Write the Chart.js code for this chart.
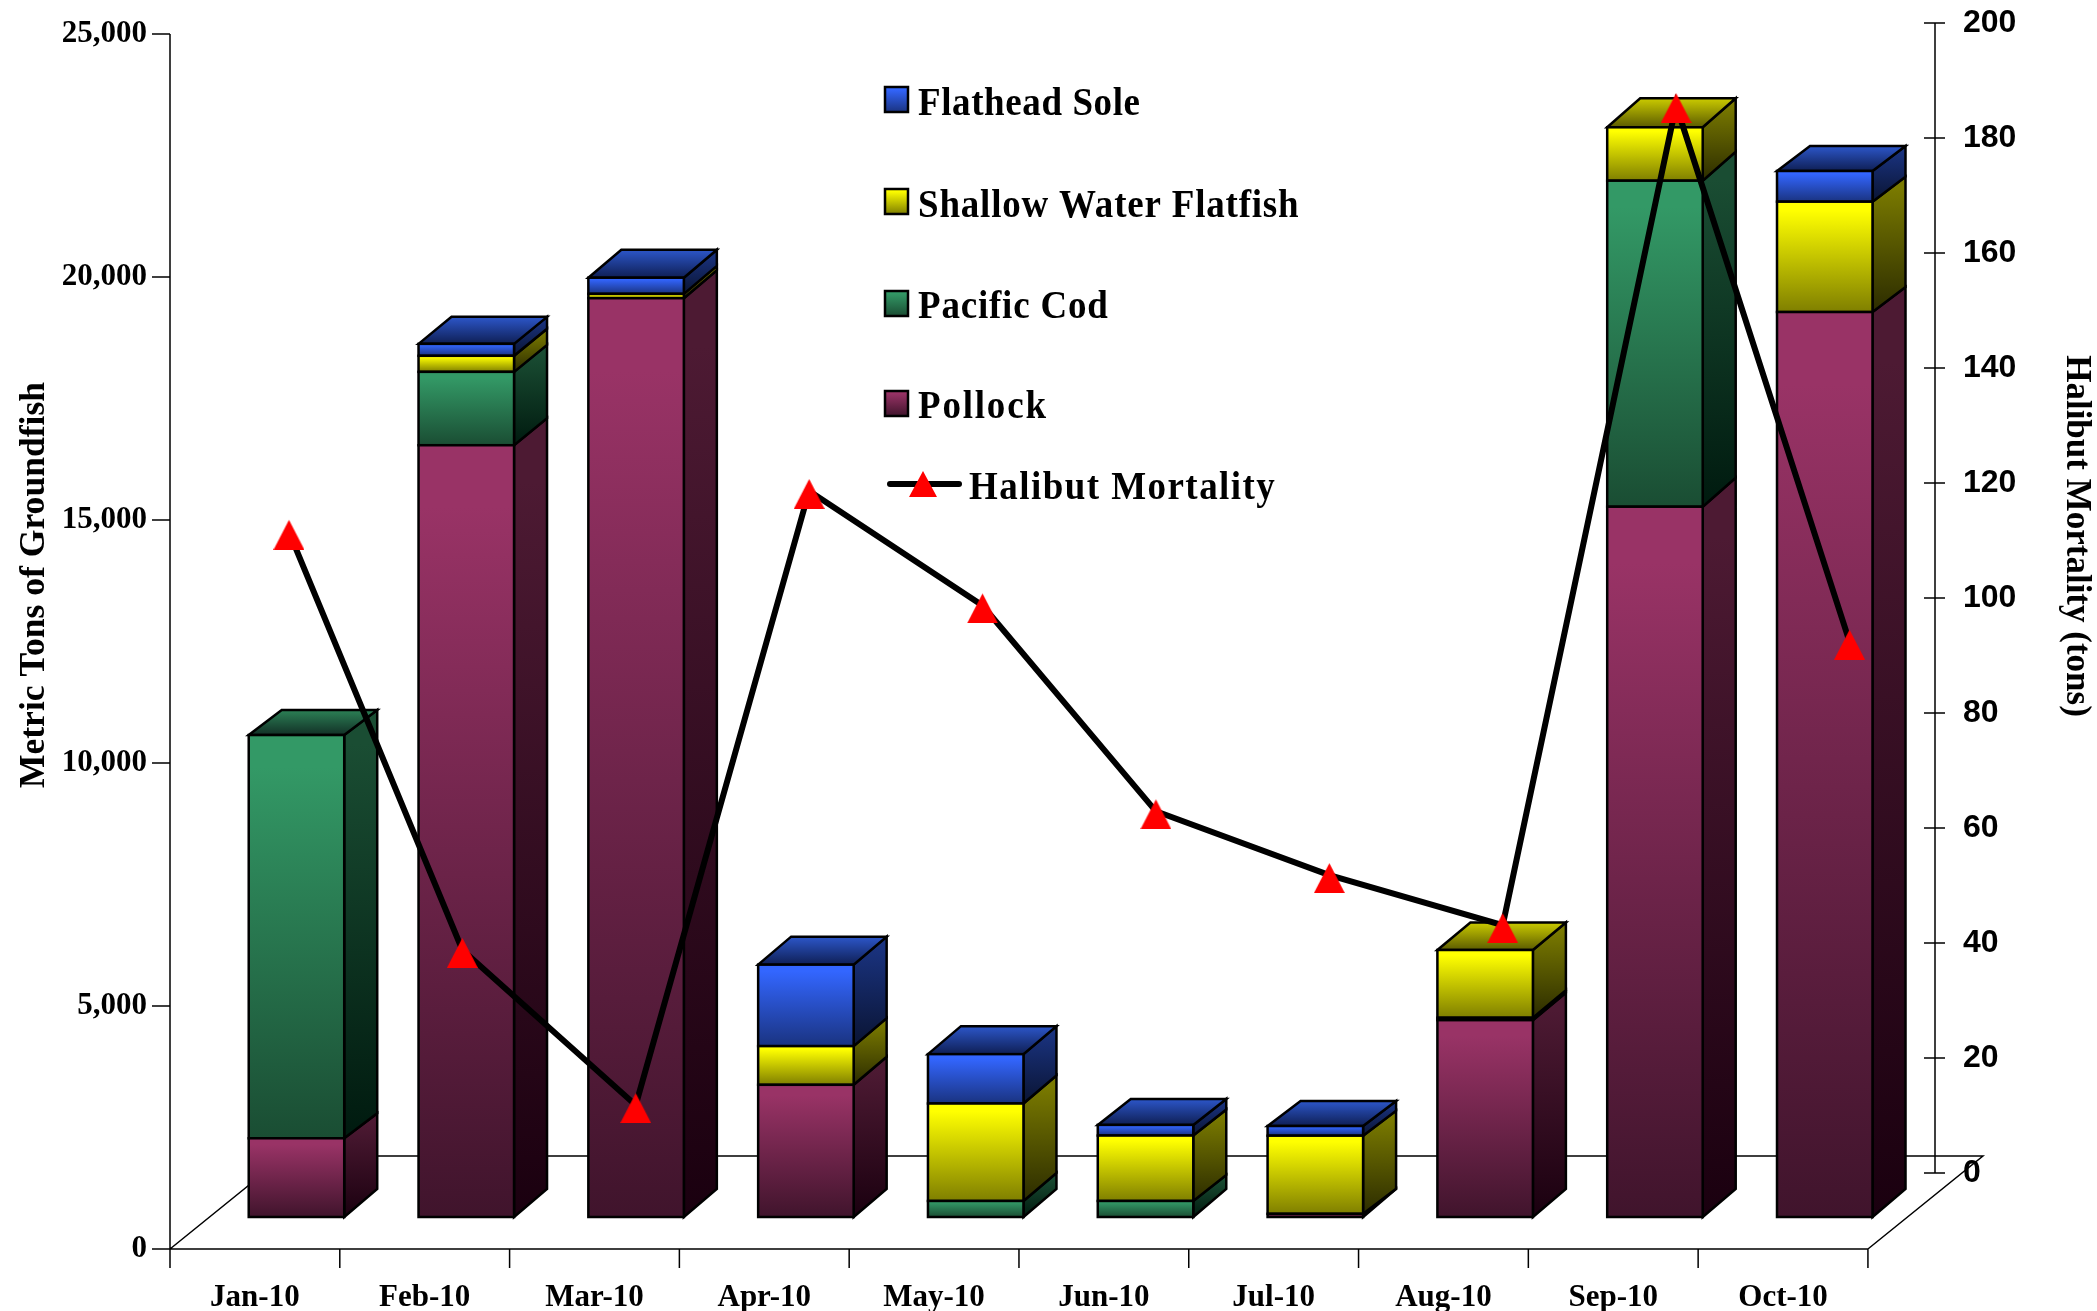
<!DOCTYPE html>
<html>
<head>
<meta charset="utf-8">
<title>Groundfish and Halibut Mortality</title>
<script src="https://cdn.jsdelivr.net/npm/chart.js@4"></script>
<style>
  html, body { margin: 0; padding: 0; background: #fff; }
  canvas { display: block; }
</style>
</head>
<body>
<canvas id="myChart" width="2097" height="1311"></canvas>
<script>
const months = ['Jan-10', 'Feb-10', 'Mar-10', 'Apr-10', 'May-10', 'Jun-10', 'Jul-10', 'Aug-10', 'Sep-10', 'Oct-10'];
const pollock = [1620, 15880, 18905, 2720, null, null, 66, 4050, 14615, 18621];
const pacificCod = [8297, 1510, null, null, 330, 330, null, 50, 6708, null];
const shallowFlatfish = [null, 330, 90, 796, 2005, 1346, 1607, 1394, 1099, 2270];
const flatheadSole = [null, 246, 332, 1676, 1016, 219, 199, null, null, 632];
const halibut = [111.5, 38.8, 11.8, 118.6, 98.7, 62.9, 51.8, 43.1, 185.7, 92.4];
const leftTicks = [0, 5000, 10000, 15000, 20000, 25000];
const rightTicks = [0, 20, 40, 60, 80, 100, 120, 140, 160, 180, 200];

const serif = '"Liberation Serif", "Times New Roman", serif';
const sans = '"Liberation Sans", Arial, sans-serif';

// front, side and top colours of each series: [top of gradient, bottom of gradient]
const looks = {
  pollock: { front: ['#993366', '#40142c'], side: ['#4d1a33', '#1a000f'], top: ['#7a2952', '#3a1226'], label: 'Pollock' },
  cod: { front: ['#339966', '#1a4d33'], side: ['#1a4d33', '#001a0f'], top: ['#2a7a52', '#123026'], label: 'Pacific Cod' },
  shallow: { front: ['#ffff00', '#7f7f00'], side: ['#7a7a00', '#2c2c00'], top: ['#c2c200', '#5c5c00'], label: 'Shallow Water Flatfish' },
  flathead: { front: ['#3366ff', '#1a3380'], side: ['#1a3380', '#0a1433'], top: ['#2a52c0', '#0f1f55'], label: 'Flathead Sole' }
};

const stackOrder = [
  { values: pollock, look: looks.pollock },
  { values: pacificCod, look: looks.cod },
  { values: shallowFlatfish, look: looks.shallow },
  { values: flatheadSole, look: looks.flathead }
];

const BAR_W = 95.5;
const BAR_DX = 33, BAR_DY = 28;       // depth of one bar at the floor
const TOP_DY = [25, 27, 28, 28, 28, 26, 25, 27.5, 29, 25];  // depth higher up, it varies a little per bar
const FLOOR_DX = 115, FLOOR_DY = 93;  // depth of the floor
const EDGE = 2.5;

function vGradient(ctx, y0, y1, cols) {
  const g = ctx.createLinearGradient(0, y0, 0, y1);
  g.addColorStop(0, cols[0]);
  g.addColorStop(0.08, cols[0]);
  g.addColorStop(1, cols[1]);
  return g;
}

function frontFill(look, seriesIdx) {
  return c => {
    if (c.type !== 'data' || !c.chart.chartArea) return look.front[0];
    const s = c.chart.scales.yBar;
    let below = 0;
    for (let k = 0; k < seriesIdx; k++) below += stackOrder[k].values[c.dataIndex] || 0;
    const v = stackOrder[seriesIdx].values[c.dataIndex] || 0;
    return vGradient(c.chart.ctx, s.getPixelForValue(below + v), s.getPixelForValue(below), look.front);
  };
}

function poly(ctx, pts, fill) {
  ctx.beginPath();
  pts.forEach((p, i) => i ? ctx.lineTo(p[0], p[1]) : ctx.moveTo(p[0], p[1]));
  ctx.closePath();
  ctx.fillStyle = fill;
  ctx.fill();
  ctx.stroke();
}

// the scale boxes keep fixed sizes so the plot area lands where the picture has it
function fixBox(size) {
  return s => {
    if (s.isHorizontal()) s.height = size; else s.width = size;
    s.paddingLeft = s.paddingRight = s.paddingTop = s.paddingBottom = 0;
  };
}

// marker: the line joins a little above the middle of the triangle
function triangleMarker() {
  const c = document.createElement('canvas');
  c.width = 31;
  c.height = 36;
  const t = c.getContext('2d');
  t.fillStyle = '#ff0000';
  t.beginPath();
  t.moveTo(15.5, 6);
  t.lineTo(31, 36);
  t.lineTo(0, 36);
  t.closePath();
  t.fill();
  return c;
}

function stretchedText(ctx, text, x, y) {
  ctx.save();
  ctx.translate(x, y);
  ctx.scale(1, 1.09);
  ctx.fillText(text, 0, 0);
  ctx.restore();
}

const axesPlugin = {
  id: 'axes3d',
  // floor, axis lines, tick marks and the side and top faces, behind the bars
  beforeDatasetsDraw(chart) {
    const ctx = chart.ctx, sc = chart.scales;
    const x0 = sc.x.getPixelForValue(0), x1 = sc.x.getPixelForValue(months.length);
    const y0 = sc.y.getPixelForValue(0), yTop = sc.y.getPixelForValue(25000);
    ctx.save();
    ctx.strokeStyle = '#000';
    ctx.lineWidth = 1.5;
    ctx.beginPath();
    ctx.moveTo(x0, yTop); ctx.lineTo(x0, y0); ctx.lineTo(x1, y0);
    ctx.moveTo(x0, y0); ctx.lineTo(x0 + FLOOR_DX, y0 - FLOOR_DY); ctx.lineTo(x1 + FLOOR_DX, y0 - FLOOR_DY);
    ctx.lineTo(x1, y0);
    leftTicks.forEach(v => {
      const y = sc.y.getPixelForValue(v);
      ctx.moveTo(x0 - 18, y); ctx.lineTo(x0, y);
    });
    for (let i = 0; i <= months.length; i++) {
      const x = sc.x.getPixelForValue(i);
      ctx.moveTo(x, y0); ctx.lineTo(x, y0 + 19);
    }
    const rx = sc.y2.left;
    ctx.moveTo(rx, sc.y2.getPixelForValue(200)); ctx.lineTo(rx, sc.y2.getPixelForValue(0));
    rightTicks.forEach(v => {
      const y = sc.y2.getPixelForValue(v);
      ctx.moveTo(rx - 11, y); ctx.lineTo(rx + 10, y);
    });
    ctx.stroke();

    ctx.lineWidth = EDGE;
    ctx.lineJoin = 'miter';
    const floorY = sc.yBar.getPixelForValue(0);
    months.forEach((m, i) => {
      let topEl = null, last = null;
      stackOrder.forEach((st, k) => {
        if (st.values[i] == null) return;
        const el = chart.getDatasetMeta(k).data[i];
        const right = el.x + BAR_W / 2, t = el.y, b = el.base;
        const backB = b - (Math.abs(b - floorY) < 1 ? BAR_DY : TOP_DY[i]);
        poly(ctx, [[right, t], [right + BAR_DX, t - TOP_DY[i]], [right + BAR_DX, backB], [right, b]],
          vGradient(ctx, t - TOP_DY[i], b, st.look.side));
        topEl = el;
        last = st;
      });
      const right = topEl.x + BAR_W / 2, t = topEl.y;
      poly(ctx, [[right - BAR_W, t], [right - BAR_W + BAR_DX, t - TOP_DY[i]], [right + BAR_DX, t - TOP_DY[i]], [right, t]],
        vGradient(ctx, t - TOP_DY[i], t, last.look.top));
    });
    ctx.restore();
  },
  // bar edges sit centred on the value, so that very thin layers stay visible
  afterDatasetDraw(chart, args) {
    if (args.index >= stackOrder.length) return;
    const ctx = chart.ctx;
    ctx.save();
    ctx.strokeStyle = '#000';
    ctx.lineWidth = EDGE;
    args.meta.data.forEach((el, i) => {
      if (stackOrder[args.index].values[i] == null) return;
      ctx.strokeRect(el.x - BAR_W / 2, el.y, BAR_W, el.base - el.y);
    });
    ctx.restore();
  },
  afterDraw(chart) {
    const ctx = chart.ctx;
    ctx.save();
    ctx.fillStyle = '#000';
    ctx.textBaseline = 'alphabetic';

    // axis titles
    ctx.textAlign = 'center';
    ctx.font = 'bold 35.6px ' + serif;
    ctx.save();
    ctx.translate(44, 585);
    ctx.rotate(-Math.PI / 2);
    ctx.fillText('Metric Tons of Groundfish', 0, 0);
    ctx.restore();
    ctx.font = 'bold 35px ' + serif;
    ctx.save();
    ctx.translate(2067, 536);
    ctx.rotate(Math.PI / 2);
    ctx.fillText('Halibut Mortality (tons)', 0, 0);
    ctx.restore();

    // legend
    ctx.textAlign = 'left';
    ctx.font = 'bold 37px ' + serif;
    const rows = [
      [looks.flathead, 87, 115, '0.6px'],
      [looks.shallow, 189, 217, '0.8px'],
      [looks.cod, 291, 318, '0.8px'],
      [looks.pollock, 391, 418, '1.8px']
    ];
    rows.forEach(r => {
      ctx.strokeStyle = '#000';
      ctx.lineWidth = EDGE;
      ctx.fillStyle = vGradient(ctx, r[1], r[1] + 25, r[0].front);
      ctx.fillRect(885, r[1], 23, 25);
      ctx.strokeRect(885, r[1], 23, 25);
      ctx.fillStyle = '#000';
      ctx.letterSpacing = r[3];
      stretchedText(ctx, r[0].label, 918, r[2]);
    });
    ctx.lineWidth = 6;
    ctx.lineCap = 'round';
    ctx.beginPath();
    ctx.moveTo(890, 484); ctx.lineTo(959, 484);
    ctx.stroke();
    ctx.fillStyle = '#ff0000';
    ctx.beginPath();
    ctx.moveTo(923, 471); ctx.lineTo(937, 497); ctx.lineTo(909, 497);
    ctx.closePath();
    ctx.fill();
    ctx.fillStyle = '#000';
    ctx.letterSpacing = '1.45px';
    stretchedText(ctx, 'Halibut Mortality', 969, 499);
    ctx.restore();
  }
};

const barSets = stackOrder.map((st, k) => ({
  type: 'bar',
  label: st.look.label,
  data: st.values.map((v, i) => ({ x: i, y: v })),
  xAxisID: 'xBar',
  yAxisID: 'yBar',
  barThickness: BAR_W,
  backgroundColor: frontFill(st.look, k),
  borderWidth: 0,
  order: 2
}));

const chart = new Chart(document.getElementById('myChart').getContext('2d'), {
  type: 'bar',
  data: {
    datasets: barSets.concat([{
      type: 'line',
      label: 'Halibut Mortality',
      data: halibut.map((v, i) => ({ x: i, y: v })),
      xAxisID: 'xLine',
      yAxisID: 'y2',
      borderColor: '#000',
      borderWidth: 6,
      tension: 0,
      clip: false,
      pointStyle: triangleMarker(),
      order: 1
    }])
  },
  options: {
    responsive: false,
    animation: false,
    layout: { padding: { top: 23, left: 0, right: 0, bottom: 0 } },
    plugins: { legend: { display: false }, title: { display: false }, tooltip: { enabled: false } },
    scales: {
      x: {
        type: 'linear', position: 'bottom', offset: false, min: 0, max: 10.395,
        grid: { display: false, drawTicks: false }, border: { display: false },
        afterBuildTicks: s => { s.ticks = months.map((m, i) => ({ value: i + 0.5 })); },
        afterFit: fixBox(62),
        ticks: {
          autoSkip: false, maxRotation: 0, padding: 30, color: '#000',
          font: { family: serif, weight: 'bold', size: 31 },
          callback: v => months[Math.floor(v)]
        }
      },
      y: {
        type: 'linear', position: 'left', min: 0, max: 25226,
        grid: { display: false, drawTicks: false }, border: { display: false },
        afterBuildTicks: s => { s.ticks = leftTicks.map(v => ({ value: v })); },
        afterFit: fixBox(170),
        ticks: {
          padding: 23, color: '#000',
          font: { family: serif, weight: 'bold', size: 31 },
          callback: v => v.toLocaleString('en-US')
        }
      },
      y2: {
        type: 'linear', position: 'right', min: -13.22, max: 200,
        grid: { display: false, drawTicks: false }, border: { display: false },
        afterBuildTicks: s => { s.ticks = rightTicks.map(v => ({ value: v })); },
        afterFit: fixBox(162),
        ticks: {
          padding: 28, color: '#000',
          font: { family: sans, weight: 'bold', size: 32 }
        }
      },
      // bars sit half a bar left of their scale value while two x scales are in use
      xBar: { type: 'linear', display: false, offset: false, stacked: true, min: -1.026, max: 9.368, afterFit: fixBox(0) },
      yBar: { type: 'linear', display: false, stacked: true, min: -658.4, max: 24568, afterFit: fixBox(0) },
      xLine: { type: 'linear', display: false, offset: false, min: -0.686, max: 9.493, afterFit: fixBox(0) }
    }
  },
  plugins: [axesPlugin]
});
</script>
</body>
</html>
